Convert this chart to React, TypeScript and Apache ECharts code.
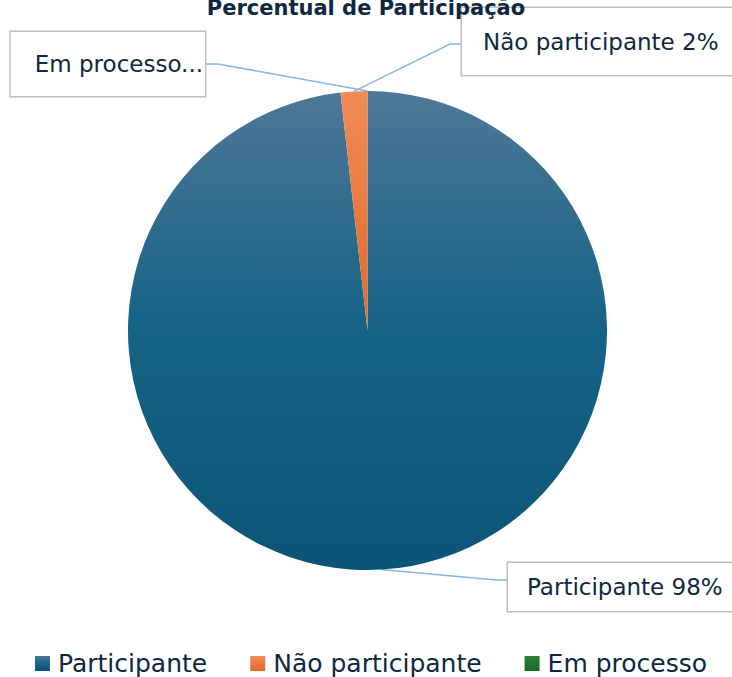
import React, { useEffect, useRef } from "react";
import * as echarts from "echarts";

// ---- data ----
const categories = ["Participante", "Não participante", "Em processo"];
const values = [98.2, 1.8, 0];
const titleText = "Percentual de Participação";
const labelFormats = ["{b} {d}%", "{b} {d}%", "{b}..."];

// ---- layout / style ----
const CX = 367.5;
const CY = 330.5;
const R = 239.5;
const FONT = "DejaVu Sans";
const TEXT = "#0e2841";

const sliceFills = [
  {
    type: "linear", x: 0, y: 0, x2: 0, y2: 1,
    colorStops: [
      { offset: 0, color: "#4e7796" },
      { offset: 0.5, color: "#156386" },
      { offset: 1, color: "#0b5477" },
    ],
  },
  {
    type: "linear", x: 0, y: 0, x2: 0, y2: 1,
    colorStops: [
      { offset: 0, color: "#f08b57" },
      { offset: 1, color: "#e06a2a" },
    ],
  },
  {
    type: "linear", x: 0, y: 0, x2: 0, y2: 1,
    colorStops: [
      { offset: 0, color: "#2f7f3a" },
      { offset: 1, color: "#196b24" },
    ],
  },
];

const labelBoxes = [
  { x: 508, y: 587, align: "left", lineY: 580, bend: 496, padding: [10, 14, 10, 19] },
  { x: 462, y: 41.5, align: "left", lineY: 44, bend: 450, padding: [19.5, 20, 19.5, 21] },
  { x: 205, y: 64, align: "right", lineY: 64, bend: 218, padding: [18, 2, 18, 24] },
];

export default function App() {
  const ref = useRef<HTMLDivElement>(null);

  useEffect(() => {
    document.body.style.margin = "0";
    if (!ref.current) return;
    const chart = echarts.init(ref.current, undefined, { renderer: "svg" });
    const total = values.reduce((a, b) => a + b, 0);

    const data = categories.map((name, i) => ({
      name,
      value: values[i],
      itemStyle: { color: sliceFills[i] as any },
      label: {
        formatter: labelFormats[i],
        padding: labelBoxes[i].padding,
      },
    }));

    chart.setOption({
      animation: false,
      title: {
        text: titleText,
        left: "center",
        top: -3,
        padding: 0,
        textStyle: { fontFamily: FONT, fontSize: 21, fontWeight: "bold", color: TEXT },
      },
      legend: {
        data: categories,
        top: 651,
        left: 35,
        padding: 0,
        itemGap: 43,
        itemWidth: 15,
        itemHeight: 15,
        icon: "rect",
        selectedMode: false,
        textStyle: { fontFamily: FONT, fontSize: 25, lineHeight: 24, color: TEXT, padding: [0, 0, 0, 3] },
      },
      series: [
        {
          type: "pie",
          center: [CX, CY],
          radius: [0, R],
          startAngle: 90,
          clockwise: true,
          avoidLabelOverlap: false,
          percentPrecision: 0,
          silent: true,
          emphasis: { disabled: true },
          label: {
            show: true,
            position: "outside",
            fontFamily: FONT,
            fontSize: 23,
            lineHeight: 28,
            color: TEXT,
            backgroundColor: "#ffffff",
            borderColor: "#bfbfbf",
            borderWidth: 1.5,
          },
          labelLine: {
            show: true,
            length: 10,
            length2: 12,
            lineStyle: { color: "#84b6e8", width: 1.5 },
          },
          labelLayout: (p: any) => {
            const i = p.dataIndex;
            const before = values.slice(0, i).reduce((a, b) => a + b, 0);
            const ang = (2 * Math.PI * (before + values[i] / 2)) / total;
            const anchor = [CX + R * Math.sin(ang), CY - R * Math.cos(ang)];
            const b = labelBoxes[i];
            return {
              x: b.x,
              y: b.y,
              align: b.align,
              verticalAlign: "middle",
              labelLinePoints: [anchor, [b.bend, b.lineY], [b.x, b.lineY]],
            };
          },
          data,
        },
      ],
    } as any);

    return () => chart.dispose();
  }, []);

  return <div ref={ref} style={{ width: 732, height: 677 }} />;
}
